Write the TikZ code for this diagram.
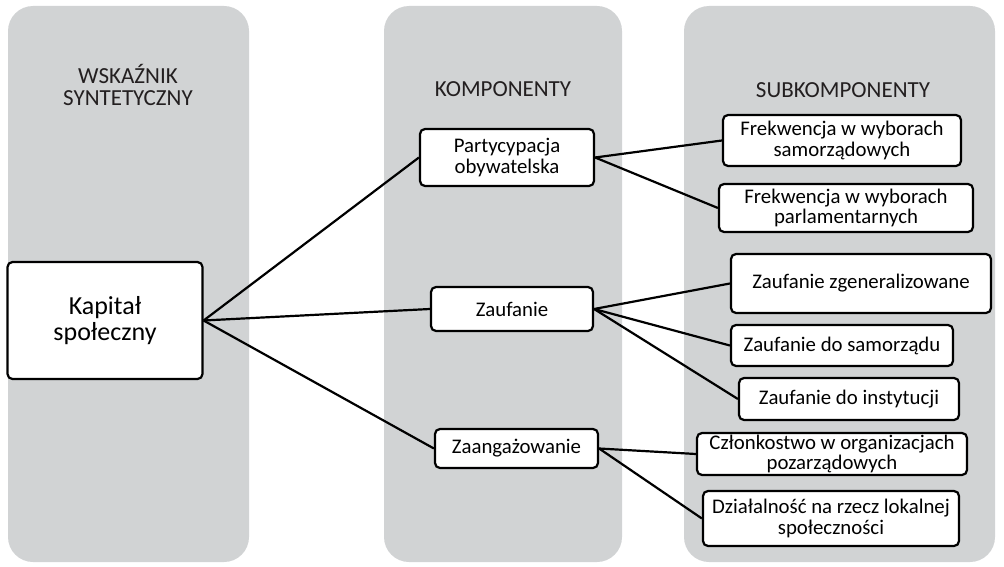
\documentclass[tikz,border=0pt]{standalone}
\usepackage{fontspec}
\setmainfont{Carlito}
\usepackage{tikz}
\usetikzlibrary{positioning}
\definecolor{panelgray}{HTML}{D1D3D4}
\definecolor{titletext}{HTML}{231F20}

\begin{document}
\begin{tikzpicture}[
  x=1pt, y=-1pt,
  every node/.style={font=\fontsize{20.8}{20.5}\selectfont},
  panel/.style={fill=panelgray, rounded corners=25pt},
  coltitle/.style={text=titletext, align=center, font=\fontsize{23}{22.5}\selectfont},
  itembox/.style={draw, line width=2.2pt, rounded corners=5pt, fill=white,
                  align=center, inner sep=0pt},
  link/.style={line width=2.2pt},
]
\useasboundingbox (0,0) rectangle (1004,567);

% ---- Background columns ----
\fill[panel] (8,6) rectangle (249,562);
\fill[panel] (384,6) rectangle (622,562);
\fill[panel] (684,6) rectangle (995,562);

\node[coltitle] (t_wsk) at (128,85) {WSKAŹNIK\\SYNTETYCZNY};
\node[coltitle] (t_komp) at (503,89) {KOMPONENTY};
\node[coltitle] (t_sub) at (843,90) {SUBKOMPONENTY};

% ---- Synthetic indicator ----
\node[itembox, minimum width=195pt, minimum height=117pt,
      font=\fontsize{26}{26}\selectfont] (kapital) at (105,320.5) {Kapitał\\społeczny};

% ---- Components ----
\node[itembox, minimum width=174pt, minimum height=57pt] (partycypacja) at (507,157.5) {Partycypacja\\obywatelska};
\node[itembox, minimum width=162pt, minimum height=44pt] (zaufanie) at (512,309) {Zaufanie};
\node[itembox, minimum width=163pt, minimum height=39pt] (zaangazowanie) at (516.5,448.5) {Zaangażowanie};

% ---- Subcomponents ----
\node[itembox, minimum width=238pt, minimum height=51pt] (frek_sam) at (842,140.5) {Frekwencja w wyborach\\samorządowych};
\node[itembox, minimum width=254pt, minimum height=48pt] (frek_parl) at (846,208) {Frekwencja w wyborach\\parlamentarnych};
\node[itembox, minimum width=260pt, minimum height=59pt] (zauf_gen) at (861,283.5) {Zaufanie zgeneralizowane};
\node[itembox, minimum width=222pt, minimum height=41pt] (zauf_sam) at (842,345.5) {Zaufanie do samorządu};
\node[itembox, minimum width=220pt, minimum height=42pt] (zauf_inst) at (849,399) {Zaufanie do instytucji};
\node[itembox, minimum width=270pt, minimum height=42pt] (czlonk) at (832,454) {Członkostwo w organizacjach\\pozarządowych};
\node[itembox, minimum width=256pt, minimum height=55pt] (dzial) at (831,518.5) {Działalność na rzecz lokalnej\\społeczności};

% ---- Connectors ----
\draw[link] (kapital.east) -- (partycypacja.west);
\draw[link] (kapital.east) -- (zaufanie.west);
\draw[link] (kapital.east) -- (zaangazowanie.west);

\draw[link] (partycypacja.east) -- (frek_sam.west);
\draw[link] (partycypacja.east) -- (frek_parl.west);

\draw[link] (zaufanie.east) -- (zauf_gen.west);
\draw[link] (zaufanie.east) -- (zauf_sam.west);
\draw[link] (zaufanie.east) -- (zauf_inst.west);

\draw[link] (zaangazowanie.east) -- (czlonk.west);
\draw[link] (zaangazowanie.east) -- (dzial.west);

\end{tikzpicture}
\end{document}
